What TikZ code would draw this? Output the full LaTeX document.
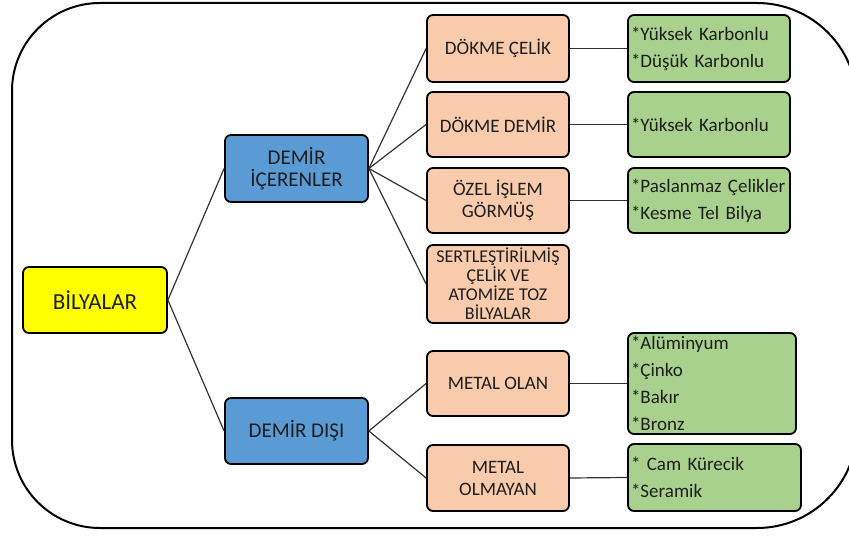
\documentclass[tikz,border=0pt]{standalone}
\usepackage{fontspec}
\setmainfont{Carlito}
\definecolor{yellowc}{HTML}{FFFF00}
\definecolor{bluec}{HTML}{5B9BD5}
\definecolor{orangec}{HTML}{F8CBAD}
\definecolor{greenc}{HTML}{A9D18E}
\definecolor{textc}{HTML}{1E1E1E}
\definecolor{linkc}{HTML}{333333}
\begin{document}
\begin{tikzpicture}[x=1pt,y=-1pt,
  base/.style={draw=black, line width=1.8pt, rounded corners=6pt, inner sep=0pt, text=textc},
  ybox/.style={base, fill=yellowc, font=\fontsize{23}{26}\selectfont, minimum width=144pt, minimum height=66pt},
  bbox/.style={base, fill=bluec, align=center, font=\fontsize{21}{22}\selectfont, minimum width=143pt},
  obox/.style={base, fill=orangec, align=center, font=\fontsize{19}{22}\selectfont, minimum width=142pt},
  gbox/.style={base, fill=greenc, align=left, inner xsep=3pt, font=\fontsize{19}{27}\selectfont},
  link/.style={draw=linkc, line width=1.2pt}]
\useasboundingbox (0,0) rectangle (849,537);
\fill[white] (0,0) rectangle (849,537);
\begin{scope}
\clip (0,0) rectangle (849,537);
\draw[line width=2pt] (12,91) .. controls (12,42.4) and (51.4,3) .. (100,3) -- (757,3)
  .. controls (812.2,3) and (857,47.8) .. (857,103) -- (857,428)
  .. controls (857,483.2) and (812.2,528) .. (757,528) -- (100,528)
  .. controls (51.4,528) and (12,488.6) .. (12,440) -- cycle;
\end{scope}
% root
\node[ybox] (bil) at (95,300) {BİLYALAR};
% level 2
\node[bbox, minimum height=67pt] (ic) at (296.5,168.5) {DEMİR\\İÇERENLER};
\node[bbox, minimum height=66pt] (dd) at (296.5,431) {DEMİR DIŞI};
% level 3
\node[obox, minimum height=67pt] (o1) at (498,48.5) {DÖKME ÇELİK};
\node[obox, minimum height=65pt] (o2) at (498,124.5) {DÖKME DEMİR};
\node[obox, minimum height=65pt] (o3) at (498,200.5) {ÖZEL İŞLEM\\GÖRMÜŞ};
\node[obox, minimum height=78pt, font=\fontsize{18}{19}\selectfont] (o4) at (498,284) {SERTLEŞTİRİLMİŞ\\ÇELİK VE\\ATOMİZE TOZ\\BİLYALAR};
\node[obox, minimum height=65pt] (o5) at (498,383.5) {METAL OLAN};
\node[obox, minimum height=66pt] (o6) at (498,478) {METAL\\OLMAYAN};
% level 4
\node[gbox, text width=156pt, minimum height=67pt] (g1) at (709,48.5) {*Yüksek Karbonlu\\{}*Düşük Karbonlu};
\node[gbox, text width=156pt, minimum height=65pt] (g2) at (709,124.5) {*Yüksek Karbonlu};
\node[gbox, text width=156pt, minimum height=65pt] (g3) at (709,200.5) {*Paslanmaz Çelikler\\{}*Kesme Tel Bilya};
\node[gbox, text width=162pt, minimum height=101pt] (g4) at (712,383.5) {*Alüminyum\\{}*Çinko\\{}*Bakır\\{}*Bronz};
\node[gbox, text width=167pt, minimum height=67pt] (g5) at (714.5,477.5) {* Cam Kürecik\\{}*Seramik};
% connectors
\draw[link] (bil.east) -- (ic.west);
\draw[link] (bil.east) -- (dd.west);
\foreach \o in {o1,o2,o3,o4} \draw[link] (ic.east) -- (\o.west);
\foreach \o in {o5,o6} \draw[link] (dd.east) -- (\o.west);
\draw[link] (o1.east) -- (g1.west);
\draw[link] (o2.east) -- (g2.west);
\draw[link] (o3.east) -- (g3.west);
\draw[link] (o5.east) -- (g4.west);
\draw[link] (o6.east) -- (g5.west);
\end{tikzpicture}
\end{document}
